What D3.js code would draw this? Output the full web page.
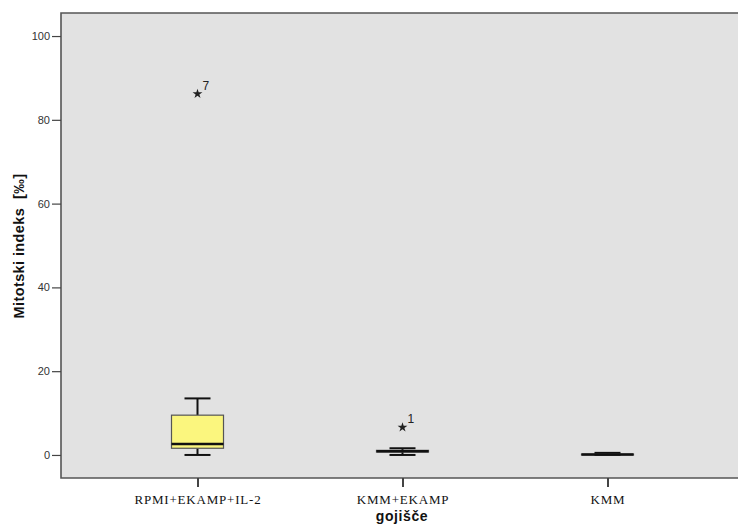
<!DOCTYPE html>
<html>
<head>
<meta charset="utf-8">
<script src="https://cdn.jsdelivr.net/npm/d3@7"></script>
<style>
  body { margin: 0; background: #fff; }
  svg { display: block; }
</style>
</head>
<body>
<svg id="chart" width="738" height="524"></svg>
<script>
// categories (gojišče) and the box statistics
var categories = ["RPMI+EKAMP+IL-2", "KMM+EKAMP", "KMM"];
var whiskerLow  = [0,   0,   0];
var q1          = [1.6, 0.7, 0];
var median      = [2.6, 0.9, 0.1];
var q3          = [9.5, 1.1, 0.2];
var whiskerHigh = [13.5, 1.6, 0.5];

// extreme values (stars) with case labels
var extremeCat   = ["RPMI+EKAMP+IL-2", "KMM+EKAMP"];
var extremeValue = [86.2, 6.6];
var extremeLabel = ["7", "1"];

var yTicks = [0, 20, 40, 60, 80, 100];

var svg = d3.select("#chart");

// plot frame edges
var plotLeft = 61, plotTop = 13, plotBottom = 478, plotRight = 745;

var x = d3.scalePoint().domain(categories).range([95, 710]).padding(0.5);
var y = d3.scaleLinear().domain([-5.5, 105.5]).range([plotBottom, plotTop]);

// plot background
svg.append("rect")
  .attr("x", plotLeft).attr("y", plotTop)
  .attr("width", plotRight - plotLeft).attr("height", plotBottom - plotTop)
  .attr("fill", "#e2e2e2");

var boxW = 52, capW = 26;

var boxes = categories.map(function(c, i){
  return {cat: c, lo: whiskerLow[i], q1: q1[i], med: median[i], q3: q3[i], hi: whiskerHigh[i]};
});

var g = svg.append("g");

boxes.forEach(function(d){
  var cx = x(d.cat);
  // whisker lines
  g.append("line").attr("x1", cx).attr("x2", cx)
    .attr("y1", y(d.hi)).attr("y2", y(d.q3))
    .attr("stroke", "#111").attr("stroke-width", 2);
  g.append("line").attr("x1", cx).attr("x2", cx)
    .attr("y1", y(d.q1)).attr("y2", y(d.lo))
    .attr("stroke", "#111").attr("stroke-width", 2);
  // caps
  [d.hi, d.lo].forEach(function(v){
    g.append("line").attr("x1", cx - capW/2).attr("x2", cx + capW/2)
      .attr("y1", y(v)).attr("y2", y(v))
      .attr("stroke", "#111").attr("stroke-width", 2);
  });
  // box
  g.append("rect")
    .attr("x", cx - boxW/2).attr("y", y(d.q3))
    .attr("width", boxW).attr("height", Math.max(y(d.q1) - y(d.q3), 0.5))
    .attr("fill", "#fbf67e").attr("stroke", "#555").attr("stroke-width", 1.2);
  // median
  g.append("line").attr("x1", cx - boxW/2).attr("x2", cx + boxW/2)
    .attr("y1", y(d.med)).attr("y2", y(d.med))
    .attr("stroke", "#111").attr("stroke-width", 2.5);
});

// extremes
extremeCat.forEach(function(c, i){
  var cx = x(c), cy = y(extremeValue[i]);
  g.append("path")
    .attr("d", d3.symbol().type(d3.symbolStar).size(30)())
    .attr("transform", "translate(" + cx + "," + cy + ")")
    .attr("fill", "#222");
  g.append("text")
    .attr("x", cx + 5).attr("y", cy - 4)
    .attr("font-family", "Liberation Sans, Arial, sans-serif")
    .attr("font-size", 12).attr("fill", "#222")
    .text(extremeLabel[i]);
});

// frame
svg.append("path")
  .attr("d", "M" + plotRight + "," + plotTop + "H" + plotLeft + "V" + plotBottom + "H" + plotRight)
  .attr("fill", "none").attr("stroke", "#555").attr("stroke-width", 1.6);

// y axis
var yAxis = svg.append("g")
  .attr("transform", "translate(" + plotLeft + ",0)")
  .call(d3.axisLeft(y).tickValues(yTicks).tickSize(9).tickPadding(2));
yAxis.select(".domain").remove();
yAxis.selectAll(".tick line").attr("stroke", "#444").attr("stroke-width", 1.2);
yAxis.selectAll(".tick text")
  .attr("font-family", "Liberation Sans, Arial, sans-serif")
  .attr("font-size", 11).attr("fill", "#333");

// x axis
var xAxis = svg.append("g")
  .attr("transform", "translate(0," + plotBottom + ")")
  .call(d3.axisBottom(x).tickSize(9).tickPadding(8));
xAxis.select(".domain").remove();
xAxis.selectAll(".tick line").attr("stroke", "#444").attr("stroke-width", 2);
xAxis.selectAll(".tick text")
  .attr("font-family", "Liberation Serif, Times New Roman, serif")
  .attr("font-size", 13).attr("letter-spacing", "0.8px").attr("fill", "#111");

// axis titles
svg.append("text")
  .attr("transform", "translate(24,246) rotate(-90)")
  .attr("text-anchor", "middle")
  .attr("font-family", "Liberation Sans, Arial, sans-serif")
  .attr("font-size", 14.5).attr("letter-spacing", "0.4px")
  .attr("font-weight", "bold").attr("fill", "#111")
  .text("Mitotski indeks\u00a0 [‰]");

svg.append("text")
  .attr("x", 402).attr("y", 521)
  .attr("text-anchor", "middle")
  .attr("font-family", "Liberation Sans, Arial, sans-serif")
  .attr("font-size", 14).attr("letter-spacing", "0.6px")
  .attr("font-weight", "bold").attr("fill", "#111")
  .text("gojišče");
</script>
</body>
</html>
